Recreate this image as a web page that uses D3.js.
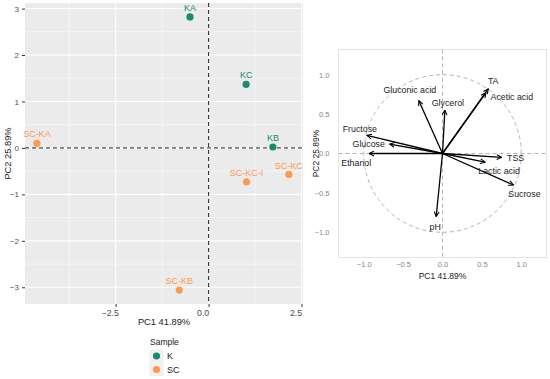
<!DOCTYPE html>
<html>
<head>
<meta charset="utf-8">
<script src="https://cdn.jsdelivr.net/npm/d3@7"></script>
<style>
  body { margin: 0; background: #fff; }
  svg { display: block; font-family: "Liberation Sans", Arial, sans-serif; }
</style>
</head>
<body>
<div id="chart"></div>
<script>
// scores plot
const samples = ['KA', 'KC', 'KB', 'SC-KA', 'SC-KC-I', 'SC-KC', 'SC-KB'];
const groups = ['K', 'K', 'K', 'SC', 'SC', 'SC', 'SC'];
const pc1 = [-0.5, 1.01, 1.73, -4.62, 1.02, 2.16, -0.79];
const pc2 = [2.82, 1.37, 0.02, 0.10, -0.73, -0.57, -3.06];
const scoreXTicks = [-2.5, 0, 2.5];
const scoreYTicks = [-3, -2, -1, 0, 1, 2, 3];

// loadings plot
const variables = ['TA', 'Acetic acid', 'Gluconic acid', 'Glycerol', 'Fructose', 'Glucose', 'Ethanol', 'TSS', 'Lactic acid', 'Sucrose', 'pH'];
const load1 = [0.58, 0.55, -0.30, 0.03, -0.96, -0.67, -0.93, 0.75, 0.54, 0.90, -0.08];
const load2 = [0.82, 0.77, 0.67, 0.55, 0.23, 0.12, 0.00, -0.05, -0.11, -0.40, -0.80];
const loadTicks = [-1.0, -0.5, 0.0, 0.5, 1.0];

const COLORS = { K: '#178a70', SC: '#fb9a52' };

const W = 550, H = 379;
const svg = d3.select('#chart').append('svg').attr('width', W).attr('height', H);

// ---------- left: scores ----------
const L = { left: 25, right: 303, top: 3, bottom: 304 };
const x = d3.scaleLinear().domain([-4.94, 2.54]).range([L.left, L.right]);
const y = d3.scaleLinear().domain([3.12, -3.36]).range([L.top, L.bottom]);

svg.append('rect').attr('x', L.left).attr('y', L.top)
  .attr('width', L.right - L.left).attr('height', L.bottom - L.top).attr('fill', '#ebebeb');

const grid = svg.append('g');
const xMinor = [-3.75, -1.25, 1.25];
const yMinor = [-2.5, -1.5, -0.5, 0.5, 1.5, 2.5];
grid.selectAll('.vmin').data(xMinor).join('line')
  .attr('x1', (d) => x(d)).attr('x2', (d) => x(d)).attr('y1', L.top).attr('y2', L.bottom)
  .attr('stroke', '#fff').attr('stroke-width', 0.5);
grid.selectAll('.hmin').data(yMinor).join('line')
  .attr('y1', (d) => y(d)).attr('y2', (d) => y(d)).attr('x1', L.left).attr('x2', L.right)
  .attr('stroke', '#fff').attr('stroke-width', 0.5);
grid.selectAll('.vmaj').data(scoreXTicks).join('line')
  .attr('x1', (d) => x(d)).attr('x2', (d) => x(d)).attr('y1', L.top).attr('y2', L.bottom)
  .attr('stroke', '#fff').attr('stroke-width', 1.1);
grid.selectAll('.hmaj').data(scoreYTicks).join('line')
  .attr('y1', (d) => y(d)).attr('y2', (d) => y(d)).attr('x1', L.left).attr('x2', L.right)
  .attr('stroke', '#fff').attr('stroke-width', 1.1);

// axes
const yAx = svg.append('g').attr('transform', `translate(${L.left},0)`)
  .call(d3.axisLeft(y).tickValues(scoreYTicks).tickSize(3).tickPadding(3).tickFormat(d3.format('d')));
const xAx = svg.append('g').attr('transform', `translate(0,${L.bottom})`)
  .call(d3.axisBottom(x).tickValues(scoreXTicks).tickSize(3).tickPadding(3).tickFormat(d3.format('.1f')));
[yAx, xAx].forEach((a) => {
  a.select('.domain').remove();
  a.selectAll('line').attr('stroke', '#333');
  a.selectAll('text').attr('fill', '#4d4d4d').style('font-size', '8px');
});
xAx.selectAll('text').attr('dx', -6).style('font-size', '8.8px');

// zero lines
svg.append('line').attr('x1', x(0)).attr('x2', x(0)).attr('y1', L.top).attr('y2', L.bottom)
  .attr('stroke', '#222').attr('stroke-width', 1).attr('stroke-dasharray', '4,3');
svg.append('line').attr('x1', L.left).attr('x2', L.right).attr('y1', y(0)).attr('y2', y(0))
  .attr('stroke', '#222').attr('stroke-width', 1).attr('stroke-dasharray', '4,3');

const pts = samples.map((s, i) => ({ s, g: groups[i], x: pc1[i], y: pc2[i] }));
svg.append('g').selectAll('circle').data(pts).join('circle')
  .attr('cx', (d) => x(d.x)).attr('cy', (d) => y(d.y)).attr('r', 3.6)
  .attr('fill', (d) => COLORS[d.g]);
svg.append('g').selectAll('text').data(pts).join('text')
  .attr('x', (d) => x(d.x)).attr('y', (d) => y(d.y) - 5.8)
  .attr('text-anchor', 'middle').attr('fill', (d) => COLORS[d.g])
  .style('font-size', '9px').text((d) => d.s);

svg.append('text').attr('x', (L.left + L.right) / 2).attr('y', 325)
  .attr('text-anchor', 'middle').attr('fill', '#222').style('font-size', '9.3px').text('PC1 41.89%');
svg.append('text').attr('transform', `translate(11,${(L.top + L.bottom) / 2}) rotate(-90)`)
  .attr('text-anchor', 'middle').attr('fill', '#222').style('font-size', '9.3px').text('PC2 25.89%');

// legend
const leg = svg.append('g');
leg.append('text').attr('x', 150).attr('y', 345).attr('fill', '#222').style('font-size', '8.5px').text('Sample');
const legItems = ['K', 'SC'];
legItems.forEach((k, i) => {
  const cy = 356 + i * 13.5;
  leg.append('rect').attr('x', 149.5).attr('y', cy - 6.5).attr('width', 14).attr('height', 13).attr('fill', '#f0f0f0');
  leg.append('circle').attr('cx', 156.5).attr('cy', cy).attr('r', 3.6).attr('fill', COLORS[k]);
  leg.append('text').attr('x', 167).attr('y', cy + 3.3).attr('fill', '#222').style('font-size', '9px').text(k);
});

// ---------- right: loadings ----------
const R = { left: 338.5, right: 546.5, top: 49.5, bottom: 257.5 };
const lx = d3.scaleLinear().domain([-1.32, 1.32]).range([R.left, R.right]);
const ly = d3.scaleLinear().domain([1.32, -1.32]).range([R.top, R.bottom]);

svg.append('rect').attr('x', R.left).attr('y', R.top)
  .attr('width', R.right - R.left).attr('height', R.bottom - R.top)
  .attr('fill', 'none').attr('stroke', '#e3e3e3').attr('stroke-width', 1);

const rxAx = svg.append('g').attr('transform', `translate(0,${R.bottom})`)
  .call(d3.axisBottom(lx).tickValues(loadTicks).tickSize(0).tickPadding(4).tickFormat(d3.format('.1f')));
const ryAx = svg.append('g').attr('transform', `translate(${R.left},0)`)
  .call(d3.axisLeft(ly).tickValues(loadTicks).tickSize(0).tickPadding(9).tickFormat(d3.format('.1f')));
[rxAx, ryAx].forEach((a) => {
  a.select('.domain').remove();
  a.selectAll('text').attr('fill', '#888').style('font-size', '7.5px');
});

const dashCol = '#b5b5b5';
svg.append('line').attr('x1', lx(0)).attr('x2', lx(0)).attr('y1', R.top).attr('y2', R.bottom)
  .attr('stroke', dashCol).attr('stroke-dasharray', '4,3');
svg.append('line').attr('x1', R.left).attr('x2', R.right).attr('y1', ly(0)).attr('y2', ly(0))
  .attr('stroke', dashCol).attr('stroke-dasharray', '4,3');
svg.append('circle').attr('cx', lx(0)).attr('cy', ly(0)).attr('r', lx(1) - lx(0))
  .attr('fill', 'none').attr('stroke', dashCol).attr('stroke-dasharray', '4,3');

svg.append('defs').append('marker').attr('id', 'ah')
  .attr('viewBox', '0 0 10 10').attr('refX', 9).attr('refY', 5)
  .attr('markerWidth', 6).attr('markerHeight', 6).attr('markerUnits', 'userSpaceOnUse')
  .attr('orient', 'auto')
  .append('path').attr('d', 'M1,1 L9,5 L1,9').attr('fill', 'none').attr('stroke', '#000').attr('stroke-width', 1.8);

const loads = variables.map((v, i) => ({ v, x: load1[i], y: load2[i] }));
svg.append('g').selectAll('line').data(loads).join('line')
  .attr('x1', lx(0)).attr('y1', ly(0)).attr('x2', (d) => lx(d.x)).attr('y2', (d) => ly(d.y))
  .attr('stroke', '#000').attr('stroke-width', 1.3).attr('marker-end', 'url(#ah)');

// label offsets (label centre relative to arrow tip, px)
const labelDx = [5, 26, -9, 3, -7, -21, -13, 14, 14, 11, -1];
const labelDy = [-8, 4, -11, -7, -7, 0, 9, 0, 9, 9, 10];
svg.append('g').selectAll('text').data(loads).join('text')
  .attr('x', (d, i) => lx(d.x) + labelDx[i]).attr('y', (d, i) => ly(d.y) + labelDy[i] + 3.3)
  .attr('text-anchor', 'middle').attr('fill', '#222').style('font-size', '8.8px').text((d) => d.v);

svg.append('text').attr('x', lx(0)).attr('y', 279)
  .attr('text-anchor', 'middle').attr('fill', '#222').style('font-size', '8.5px').text('PC1 41.89%');
svg.append('text').attr('transform', `translate(319,${ly(0)}) rotate(-90)`)
  .attr('text-anchor', 'middle').attr('fill', '#222').style('font-size', '8.5px').text('PC2 25.89%');
</script>
</body>
</html>
